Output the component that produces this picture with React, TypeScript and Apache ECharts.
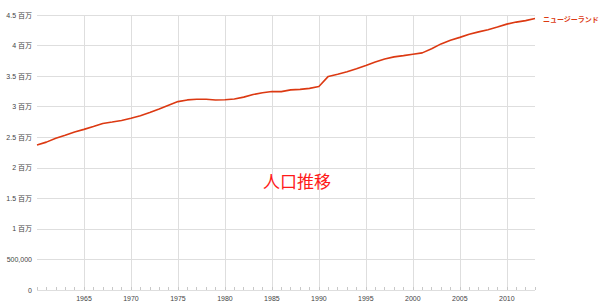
import React, { useEffect, useRef } from "react";
import * as echarts from "echarts";

const years: number[] = [
  1960, 1961, 1962, 1963, 1964, 1965, 1966, 1967, 1968, 1969,
  1970, 1971, 1972, 1973, 1974, 1975, 1976, 1977, 1978, 1979,
  1980, 1981, 1982, 1983, 1984, 1985, 1986, 1987, 1988, 1989,
  1990, 1991, 1992, 1993, 1994, 1995, 1996, 1997, 1998, 1999,
  2000, 2001, 2002, 2003, 2004, 2005, 2006, 2007, 2008, 2009,
  2010, 2011, 2012, 2013,
];

const population: number[] = [
  2371800, 2419700, 2482000, 2531800, 2585400, 2628400, 2675900, 2724100, 2748100, 2772800,
  2810700, 2853000, 2903900, 2961300, 3023700, 3083100, 3110500, 3120200, 3121200, 3109000,
  3112900, 3124900, 3156100, 3199300, 3227100, 3247100, 3246300, 3274400, 3283400, 3299200,
  3329800, 3495100, 3531700, 3572200, 3620000, 3673400, 3732000, 3781300, 3815000, 3835100,
  3857700, 3880500, 3948500, 4027200, 4087500, 4133900, 4184600, 4223800, 4259800, 4302600,
  4350700, 4384000, 4408100, 4442100,
];

const seriesName = "ニュージーランド";
const chartTitle = "人口推移";
const yTickValues: number[] = [0, 500000, 1000000, 1500000, 2000000, 2500000, 3000000, 3500000, 4000000, 4500000];

const FONT = 'Arial, "Liberation Sans", "Noto Sans CJK JP", sans-serif';
const LINE_COLOR = "#dc3912";
const GRID_COLOR = "#dedede";

function yLabel(v: number): string {
  if (v === 0) return "0";
  if (v === 500000) return "500,000";
  return v / 1000000 + " 百万";
}

export default function App() {
  const ref = useRef<HTMLDivElement>(null);

  useEffect(() => {
    if (!ref.current) return;
    const chart = echarts.init(ref.current, undefined, { renderer: "svg" });
    const data = years.map((y, i) => [y, population[i]]);
    const xMin = years[0];
    const xMax = years[years.length - 1];
    const nLines = Math.floor((2010 - xMin) / 5) + 2;
    const splitColors: string[] = [];
    for (let i = 0; i < nLines; i++) {
      splitColors.push(i === 0 || i === nLines - 1 ? "rgba(0,0,0,0)" : GRID_COLOR);
    }
    chart.setOption({
      animation: false,
      backgroundColor: "#ffffff",
      textStyle: { fontFamily: FONT },
      grid: { left: 37, right: 65, top: 15, bottom: 16, containLabel: false },
      graphic: [
        {
          type: "text",
          x: 297,
          y: 180,
          style: {
            text: chartTitle,
            fill: "#ff1a1a",
            fontSize: 17,
            fontFamily: '"Noto Sans CJK JP", sans-serif',
            align: "center",
            verticalAlign: "middle",
          },
          z: 10,
        },
      ],
      xAxis: [
        {
          type: "value",
          min: xMin,
          max: xMax,
          interval: 5,
          axisLine: { show: false },
          axisTick: { show: false },
          axisLabel: {
            fontSize: 7,
            color: "#444",
            margin: 5,
            formatter: (v: number) => (v % 5 === 0 && v !== xMin ? String(v) : ""),
          },
          splitLine: { show: true, lineStyle: { color: splitColors, width: 1 } },
        },
        {
          type: "value",
          min: xMin,
          max: xMax,
          interval: 1,
          position: "bottom",
          axisLine: { show: false },
          axisTick: { show: true, inside: true, length: 3, lineStyle: { color: "#c8c8c8" } },
          axisLabel: { show: false },
          splitLine: { show: false },
        },
      ],
      yAxis: {
        type: "value",
        min: yTickValues[0],
        max: yTickValues[yTickValues.length - 1],
        interval: yTickValues[1] - yTickValues[0],
        axisLine: { show: false },
        axisTick: { show: false },
        axisLabel: {
          fontSize: 7,
          color: "#444",
          margin: 5,
          formatter: yLabel,
        },
        splitLine: { show: true, lineStyle: { color: GRID_COLOR, width: 1 } },
      },
      series: [
        {
          name: seriesName,
          type: "line",
          xAxisIndex: 0,
          data,
          showSymbol: false,
          smooth: false,
          lineStyle: { color: LINE_COLOR, width: 1.6 },
          itemStyle: { color: LINE_COLOR },
          endLabel: {
            show: true,
            formatter: seriesName,
            color: LINE_COLOR,
            fontSize: 7,
            fontWeight: "bold",
            distance: 8,
            fontFamily: '"Noto Sans CJK JP", sans-serif',
          },
        },
      ],
    });
    return () => chart.dispose();
  }, []);

  return (
    <div
      ref={ref}
      style={{ position: "absolute", left: 0, top: 0, width: 600, height: 306 }}
    />
  );
}
